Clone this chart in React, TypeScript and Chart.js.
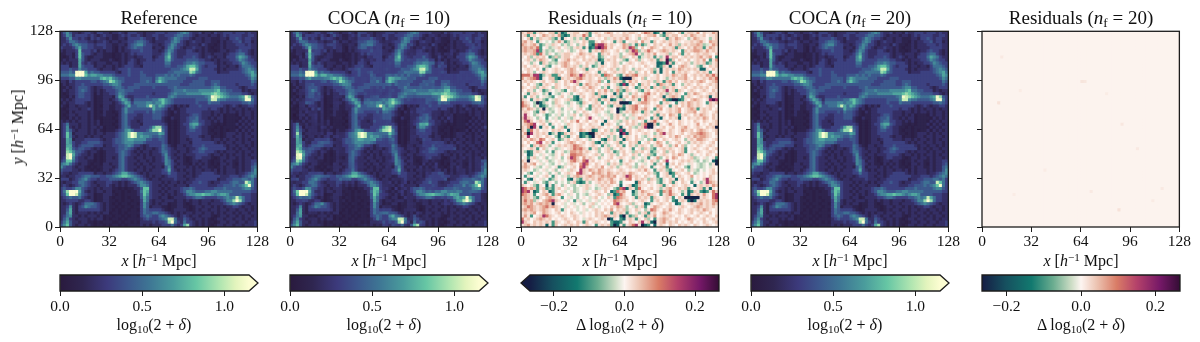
import React, { useEffect, useRef } from "react";
import { Chart, registerables } from "chart.js";

Chart.register(...registerables);

const FONT = '"Liberation Serif", serif';
const TICK_INK = "#1c1c1c";
const SOFTEN = "blur(0.4px)";

const positionTicks = [0, 32, 64, 96, 128];
const densityBarTicks = [0, 0.5, 1];
const residualBarTicks = [-0.2, 0, 0.2];

// log10(2+delta), one character per cell; top row first.
const densityLevels = [0.06, 0.12, 0.21, 0.32, 0.42, 0.52, 0.62, 0.72, 0.82, 0.92, 1.02, 1.12, 1.25];
const referenceRows = [
"24642212 33213322 12232133 32212223 33233345 65322312 21322333 23332322",
"23652333 32321232 21123232 23212233 22333455 44321222 12212323 33322332",
"22463323 21323221 21122133 33432213 22234654 33212212 21112213 34323322",
"22355433 32212232 12212233 45543212 22335653 21232212 21102122 33423312",
"23235654 43323332 21122134 56643322 12346533 21222132 11012122 23332322",
"32223574 43322232 21021234 54433312 21356432 12232212 10112122 22333322",
"21222383 33231212 21021223 33433322 12465322 23321212 11012212 23433212",
"11221384 33212211 10112123 23333322 23574322 23333212 21222123 34553212",
"10121384 21122211 10112122 12233312 33684322 33343212 32122133 35765322",
"12122274 21222111 21012123 21223323 33674333 34444332 21212223 34654332",
"21212273 23212221 12212133 21233333 33553333 45565443 33212122 33465433",
"33312274 33312212 21212333 22133333 33443344 57886432 33312212 21355543",
"33343364 43332122 21233343 33333333 33334445 67aa7433 33212122 22345654",
"44454bcc 74544333 33213343 33433333 33344555 55985433 33312223 33345675",
"55566ccc 86776655 54333343 33443334 44545454 44543333 33333333 33334576",
"33344665 55555787 86544333 33444435 76555544 43333444 33333333 33333465",
"22132333 33443456 98654333 33445436 86544444 33344443 34443333 33333354",
"12122334 33333344 56653333 44444444 44444443 33444443 34543333 32333343",
"11212344 43212233 34554344 44333343 33344544 44444444 45664433 33212333",
"12122345 43212123 33455444 33333333 33334555 65555666 66785544 33312122",
"10122344 33202122 33465433 33333323 33345655 56666677 78987654 44433212",
"11021344 33201122 21476322 33334333 33356544 44444445 6ba98765 5567b943",
"21212333 33201122 12357642 44444455 78654333 33334444 6aa65544 4456bb53",
"12122333 21201122 21235763 55556656 68654333 33334333 54443333 33344543",
"21022122 21201022 11223574 45557a75 76432021 21333433 33333212 32122332",
"10122212 23201122 11224644 44444475 54312012 23333333 23321212 12212122",
"11021222 21201021 10124644 33334354 43210212 23333322 21221212 21212212",
"10122122 21201121 11024533 32233344 43210112 22344322 21212011 10212212",
"11021212 21201011 10124533 22233344 42102112 23445322 12122011 11021212",
"21212122 21212011 11024532 21233333 32101012 23455332 21212011 10212122",
"23522212 21212011 10124532 22133333 33201012 33677432 21101011 12021212",
"23621212 21221201 11024542 22333479 94301012 23564322 11010111 10212122",
"23642122 21212101 11234675 33334699 b5301012 23443322 10110101 12021212",
"23851222 21212212 2234569c a6655555 76301012 23333322 11010122 21212122",
"23852122 12122122 2234569c a6766544 54301012 22333212 20110122 12212212",
"22761222 33333212 23445677 66664433 44301012 21233322 21221212 21212122",
"22763223 34444322 23445666 55543333 34301012 22133333 33212122 12212212",
"22773234 44433312 23344565 33212333 35421022 12233343 33333212 21221212",
"22874344 33212122 22344543 21212212 35432122 21223454 33333312 12122122",
"22986443 21221012 22345432 12122122 35532212 21233443 33212122 21212212",
"22ab7432 21201012 22245432 21212122 24632122 12223333 21221212 12212122",
"23ab6322 12201012 21245322 12212212 23642212 10123322 21012212 21212212",
"34885322 21101012 22245322 21221212 23653122 10122122 10112122 11212233",
"56753212 21011022 12245322 12122122 22653212 11021212 10102212 10212234",
"64332122 10101122 21245322 21212212 21463122 21212122 11012122 11212245",
"43332212 11010122 12345322 12212122 23473212 12212212 21202122 21212246",
"32212233 33312212 23457754 32121222 23353322 21212233 33212122 21223456",
"22122334 55444334 45678876 54321212 21233322 12212333 33332223 33234565",
"33312345 64332333 44443345 65432122 12222322 21223333 33312233 44455453",
"21223355 43212223 32212123 45654322 21212212 12233433 21223334 5544a853",
"23212345 43221223 21212122 24665322 12122122 21333333 22233444 54568b53",
"34334664 32212122 21101011 22488322 21212223 44543333 33444544 44456643",
"359ccc74 21212212 20110101 12587322 12122123 46654445 56655555 44444433",
"348cca64 32201122 21010111 12486322 21212122 35667787 76567764 44433322",
"23454453 21201122 10110101 11475322 12201222 23345543 33344565 6a753322",
"22333322 33201122 11010110 11375212 21222122 12122122 21223466 9c953322",
"21232123 55543212 10101101 10364212 12201122 10122122 12222345 65432122",
"22362134 65443212 11010110 11364122 21101122 11012212 21212122 33212212",
"22472133 33333212 10101101 10354333 32101222 21012122 12212212 21221212",
"22572122 21212122 01101011 11354455 44321212 12212212 21212122 12122122",
"23562212 12221201 10110101 10345433 56543212 32122122 21012212 21212212",
"24632122 21212201 01101011 11234333 456aa522 43212212 10122122 12212122",
"35742212 21101011 10010110 10222232 3349c532 53321212 11012212 21221223",
"46842122 12101101 01101011 11212122 23335323 79321212 10122122 12212223",
];

// Residuals (n_f = 10): A = most negative ... F = zero ... L = most positive
const residualLevels: Record<string, number> = {
  A: -0.26, B: -0.165, C: -0.1, D: -0.045, E: -0.02, F: 0,
  G: 0.018, H: 0.04, I: 0.07, J: 0.105, K: 0.165, L: 0.25,
};
const residual10Rows = [
"HGIHCGHG FHHCHBCG GHHFGHCG HGFHIHFG FHGHHGFH JIHBCGBH HGFHCGHH GIFHGGIH",
"GHCGHFGI HGHGICBC GHGGJHCF GHGGGHGG GHHGFGHF GHHIFDCH GHHFGHGI HGGHFGGH",
"GFHCGDHG GHDCGBGF GDGDHCGG FGFHEGHG HGIGFGDG HGFGGFGC HGIHGFDG IHGGFDGH",
"HIGHFCGF EFDGIGCD GEGFHGCC GFHGFGCG HCFGGHFI GGCHFGHG HGHGFGGH GHIGFIHH",
"IHGHIGCD GEHGFDGD GFDGHFCB JKKIGHGF GIHDGCHC DGFHGHFG IGHDGHGH HIHDEGIH",
"HIHIHJCF GDEGHFGE DGHGCGBC KLKJGHFG GIHKJDFH FGIHGFHG GHCHGFHG IHHCGIHG",
"HIHHIKCG DEDFGEFG DEFHGFCG HGIHGFGH FGDHKJDG HJHFGHIH GHGFCHGH IIHGIGHG",
"GHGHICJG DGFDEGHH GFGIHGHG FCHGHFGG DFGHIKGD GHGIFGGH DGFHCGHF GHGHHGFH",
"GFHDGHGH FCDHDGHH FGHGHFGH GCDGFGHG DHGFHGCE GHGCGDGK GHHFGHGH GHIGHIFC",
"FGHGDGIH GFDCFGHI GHGFHGHG HBCGHGHF GDCGFHDG FGHGCHGL CHFHGFHF GHGIFCGI",
"GFGDGFCH GDEDGHIH FGHGFHGG DGBGFGHG DFGHGFGH GFGGBBCL HCGFGHGD GHGHCDGH",
"GHFGHGFG DCFGFHIH GHGDGHFC DGHGFGHG FHGFGFGF HGFGBCHG BGFHIHGF GDCGFHGH",
"FGHGFHFC GFGHGFGH IHFGHCGG FHGFGHGD GHGFDGHG FGHDGBGH GHGIHGHG HGBBGFHG",
"GFHGDFGH GFGHGHFH IHGFGHGF GCGHFGHG GHFHGDGF HFHCGBGH FCGHGHGF GHGHGCFG",
"JJJHKKBD GHCCHFGH JIHKIGHG HGCJIHFD CGIHIJGG HGFGHFGH GIHGHIFG HGHGIHJH",
"IGHIJKBG FHHCBHGH GHIJHGHG FHGDHGIH BAAAHGFH DFGGHFGD GHGHHIGF HFGHGIHJ",
"GHGHGFGH FGHDGFHG IKHGFGHG GIDFCGHG HCGIGHFG GHGDHGCH IGHFGHGH GHIHFGHI",
"GFHFGDCG HGFHGFHG FGHCGIHG HGFGHFGD BKBGHFCH GHFGCIHG HCGFDGHG FHGFGHGH",
"HGFGHDGH GFDHGFGH GHFGHGIH GFDGCFGH DGHFGCDG HGCHGHDH GHGFGHFG HGHGHFGH",
"GFHGDFGC DGFEGDCF GHGFGHGH FHGIGDGI DCHGFGDC GHFGHGHK GHCHGFGH GFGHGFHG",
"FGCGHGFD GBFEDGFG DFGHGFGH CHGHFGBH CFGDGHFG IJGHFHGD HGHGFCHG IHGFGHGH",
"GCFHGDFG EDCFGHFE GCBGHFGH GHCBFHGD BGHFIHGH JHGFGHBG HIHGCGHG FGHGHBGH",
"HGFCGHGD CFEHGFGH DCBDGFHG HCGHGBCG HDFGHGCG JHGHGFIC BAABCGFH IHGFGKLK",
"JHGFDABD GFDHGFED GFDCHGFG HGCFHGHG AAABFGHI IHFGFCGH GFCGHGIH GHGFCHGH",
"JIHFDGBC DFEGHGFE GFGDGFCH GHFGDCGH HCGHIJGF HGFGIHGF CGHFHGIH GHGFGHGF",
"HGIHGDGA GDEFGDFG EFGHFDCG HGHFEGFA CBGHIJGH IGFCGIFG HGHIFGHI HCGHGHFG",
"GHGFDCGH FEDFGEFE FDGFHGFG HGFEDGFA DGHGIHGC HGDGHGFG HGHIFGHH IFGHGFGH",
"GKGFDGFE CDFEGDFE GHFDGHGF GEFGEDGH GDFEHGFG HGFHCGHF IHGCGHGF HGIHGFHG",
"HKHGFDGF CFEGDFGE DGFGFHKG FGEFGDGH FGDGEGIH GFCGHBGF HGHBGFHG GHGIHFHG",
"GJKHFGHG DGFGFEGF HGJFGHFG HFGBGFGE DGHFHGFG CGHJGFGH FGFHGFGF HGFHGFGH",
"GHIJKFGH FCGFGFEH GFGHGFHG GFBGHGFD GFHGHGDH JAAHCGFG IGFHGFGF GIFGFHGH",
"HGIAKGBG HFCFGHCG GFGHFGGH GHGFGFGH BGFHEDGH KAAGFGHF GHFGHIGF GHGFHGHA",
"HGCJGHFG GFHGHGFB GFGIHGHB CGFHGDGC KBGHFGHG FGFGIHGF HGFGIHGH FHIHGFGH",
"GIAKGHGH GBDGBCHG HGFBCBAA HGHGGHGF AKBHFGFG HGFDGIKG HGFGHFGH HIJIHGFH",
"HGKFGHGF HGFDBGDC GFHBCDBA GHFGDGDG BGHGFHFE DGFHGHGF HGIHFGHG IHIIHGFG",
"GHGIHGJI FGHFCDGH FGHGFGDG FGCBHGDG GBHGFHGE FDHCGFHG FGHGFDGH GIIHGFGH",
"GFHFGJKF HGCFGFGH IHFGHFGH CBGDGFGH CGFHGHCF GHFGIHFD GFGHFGDG HGHGFGHF",
"HGFCHGIH GDFGHGHG HJIHGFGH GFCGDGFH GCFHGDGH GFDGHIFG DGIFHDFG FHGFGHGF",
"GFGHGCFH EFGDEGFG HJIJHGCG HDFGHDGF HGFGCFGD HGDCFGHG HGFGHCFG HGFGHFGH",
"GDBCGHGF DFCGFGDE IIHIGHGF GDFGHGCD GHFGDHGH FGCDGFHD GHFGHCFG FHGFGHGF",
"GFBCGFEG FEDGFHFG JJIIHGFG HGDFGHGD FHGFHGDF GHDCFGHG FHGIHFGD GFGFHGFH",
"FGCGHEFG DFEGFDFH KJHFIGHG FDGFGHFG HGFGDGFE GCFGIDFH FIHFGFGH DEFGEFGC",
"HGAGFGEF GDEFGEFG IJHGJKGH FGFGHFGF CGFHGFED GFHGDFHK FGFGHGHG EDFDEFBA",
"GIGHIFGE FEDFGFEG HGFIKJGF HGFGDGHG DGHGFDFG EFGCGHFB GHFHGFEG FEDEFDGA",
"HIHFGEDF GEFGCDGF GHFJKHFG HGIFGHGD GFGHEDGH GFCGFGHC GFHGFDCG FEDEFEGF",
"GHGFDEFG EFGDFGFE HGFKHGIH GIHGHGFG HGFGFGHG IGFCGHGD CGFGHFDG EDFEFGHF",
"GFDCFGEF GDFGDFGH GFJKHGFI HIHGIHGH GHGIHGFG FHGDCFGH BCHGFGHF DEFGFGHG",
"FCGFGEFG HFCGFEGD GHIHGHIH GHIHIHIF GHKJGHGF HGFGCFGH GCFHGFGI FGFGFHGF",
"GFCBGFGE FCDGFGFC BGDCGHGH GIHGHIGF HGIJFHGH GDHGDCGF HGBGHFGD FGFHKHGF",
"FCGFEGFD CGFDFEFD GHCBCGDF GHGHGIHF CFFFFBIG FHGFDCGF HCGFHGFC GFDGKIHG",
"HGFGDCGF BGCGFDGF EDFEGHGF EGHGHGFG BFGHBCHG GFGFGHCG FHGFGHGF BGHGHGIH",
"KJHIHCGH CDCGHFGE FDEFGHEF DEGHGFDC JKBHGCJG FGHFGDGH IGFHGHCG FGHCGBGF",
"KJKGBCFH GBCGFGEF GDEFGEFG HGFHFBCJ HIFFBDGI HGFGHCIH JGFGDGBC HGCBCGJH",
"JIHGCFGH IGCHIGFE GFDFEDGF GHGFDHBC JHFFCDGH GIHGFCGH JHGFCGBH GHGIGFJK",
"HIHGDCGF HIHGFCFG EFDFGFEG HFEFHGCJ IHGFGCHG HGCHGFGH GCFHGAAA AAGHGFJK",
"HJHIDGFH IJKHGFGE FCGEFGEF GEFGFGJI HGHFGFGH GFCGHFGH FCBGHGBA BGHGHGIJ",
"HIHIGHIH IHAGFGEF GEFGDFGH EFGFGFJK GFGHDGFG BCGFGHGF HFBCGFGH GHIGHGIH",
"GHJIHGHI JHIHGFEG FGEFGFHE FEFGFHGI HGDFGDGH CFGIHGFG HGFGHGFG HIHGHGHG",
"HIHIHGHI HGFHGCGF GFEFGEFG HGFHGIFH GHDGFHGF DGJIGFHG IGFHGFGH GHGIHGFG",
"GHGHIFGI HGFGHFGF HGFEGFGF HGHFGCHG HGCGFGDG HCGHFGIH GFGHGFGH FGHGFHFG",
"GIGCFGHK JHGFGHGF GHGFGFGF HGHIHGHG BAGCDHFG CHGIFGHG HGFGFHGF GHFGHGFH",
"JGHFGHIH GHFGFGHG FHGFEGHG FGHGABGF CBGHGCGF HDFCGHIH GFHGFGIH GFGHFGHG",
"KHGFHGHG HGCHGFGH GFHGCHFG HGFGFCBB CGFHGFHK GHBAGHIG HGHFGFGH FGFHGFGH",
"GHIGHGHG BGCHFGHG HGHFGHGF CGHGHCAB GCGHJKGA BCFBGHGF HGFHGHGF HGFGHGFG",
];

// Residuals (n_f = 20): nearly uniform level plus the few visible faint cells [col, row, value]
const residual20Level = 0.002;
const residual20Spots = [
  [32, 16, 0.014], [33, 16, 0.012], [5, 23, 0.016], [44, 58, 0.016], [45, 30, 0.012],
  [50, 38, 0.01], [35, 52, 0.01], [58, 51, 0.01], [6, 8, 0.01], [12, 19, 0.008],
  [20, 45, 0.008], [55, 55, 0.009], [10, 53, 0.008], [40, 20, 0.008],
];

const densityStops: [number, string][] = [
  [0, "#2a1a3e"], [0.12, "#2f2650"], [0.25, "#3c3a7c"], [0.36, "#3c578c"], [0.47, "#3e7594"],
  [0.6, "#4a9c9c"], [0.72, "#66c6a4"], [0.85, "#b2e6b1"], [0.93, "#e3f4bd"], [1, "#fcfdd2"],
];
const residualStops: [number, string][] = [
  [0, "#151d44"], [0.12, "#16505f"], [0.25, "#12796f"], [0.36, "#6bad90"], [0.45, "#cbdcc4"],
  [0.5, "#fdf5f1"], [0.58, "#ecc3b1"], [0.68, "#d97c66"], [0.78, "#b5426a"], [0.9, "#751867"], [1, "#340d35"],
];

const hexRgb = (h: string) => [1, 3, 5].map((i) => parseInt(h.slice(i, i + 2), 16));
function colorAt(stops: [number, string][], t: number) {
  const f = Math.min(1, Math.max(0, t));
  for (let i = 1; i < stops.length; i++) {
    if (f <= stops[i][0]) {
      const [a, ca] = stops[i - 1];
      const [b, cb] = stops[i];
      const k = (f - a) / (b - a);
      const A = hexRgb(ca);
      const B = hexRgb(cb);
      return `rgb(${A.map((v, j) => Math.round(v + (B[j] - v) * k)).join(",")})`;
    }
  }
  return stops[stops.length - 1][1];
}

const clean = (rows: string[]) => rows.map((r) => r.replace(/ /g, ""));
const reference = clean(referenceRows).map((r) => Array.from(r).map((c) => densityLevels[parseInt(c, 16)]));
const residual10 = clean(residual10Rows).map((r) => Array.from(r).map((c) => residualLevels[c] ?? 0));
const residual20 = reference.map((r) => r.map(() => residual20Level));
residual20Spots.forEach(([c, r, v]) => { residual20[r][c] = v; });
const coca10 = reference.map((r, j) => r.map((v, i) => Math.max(0, v - 0.4 * (residual10[j][i] ?? 0))));
const coca20 = reference.map((r, j) => r.map((v, i) => Math.max(0, v - residual20[j][i])));

const DENSITY_MAX = 1.15;
const densityColor = (v: number) => colorAt(densityStops, v / DENSITY_MAX);
const residualColor = (v: number) => colorAt(residualStops, (v + 0.268) / 0.536);

const frame = {
  id: "frame",
  afterDraw(chart: any) {
    const { ctx, chartArea: a } = chart;
    ctx.save();
    ctx.strokeStyle = TICK_INK;
    ctx.lineWidth = 1.3;
    ctx.strokeRect(a.left, a.top, a.right - a.left, a.bottom - a.top);
    ctx.restore();
  },
};

function Heatmap({ left, grid, color, under, showY }: { left: number; grid: number[][]; color: (v: number) => string; under: string; showY: boolean }) {
  const ref = useRef<HTMLCanvasElement>(null);
  useEffect(() => {
    const points: { x: number; y: number }[] = [];
    const colors: string[] = [];
    grid.forEach((row, j) => row.forEach((v, i) => {
      points.push({ x: i * 2 + 1, y: 127 - j * 2 });
      colors.push(color(v));
    }));
    const backing = {
      id: "backing",
      beforeDatasetsDraw(chart: any) {
        const { ctx, chartArea: a } = chart;
        ctx.save();
        ctx.fillStyle = under;
        ctx.fillRect(a.left, a.top, a.right - a.left, a.bottom - a.top);
        ctx.restore();
      },
    };
    const chart = new Chart(ref.current!, {
      type: "scatter",
      data: { datasets: [{ data: points, pointStyle: "rect", pointRadius: 2.6, pointBorderWidth: 0, pointBackgroundColor: colors, showLine: false }] },
      options: {
        responsive: false, animation: false, events: [],
        layout: { padding: { top: 8, right: 12, left: 0, bottom: 0 } },
        plugins: { legend: { display: false }, tooltip: { enabled: false } },
        scales: {
          x: {
            type: "linear", min: 0, max: 128,
            afterBuildTicks: (s: any) => { s.ticks = positionTicks.map((value) => ({ value })); },
            afterFit: (s: any) => { s.height = 25; },
            grid: { drawOnChartArea: false, tickLength: 5, tickColor: TICK_INK },
            border: { display: false },
            ticks: { autoSkip: false, maxRotation: 0, padding: 1, color: "#111", font: { family: FONT, size: 15.5 } },
          },
          y: {
            type: "linear", min: 0, max: 128,
            afterBuildTicks: (s: any) => { s.ticks = positionTicks.map((value) => ({ value })); },
            afterFit: (s: any) => { s.width = 40; },
            grid: { drawOnChartArea: false, tickLength: 5, tickColor: TICK_INK },
            border: { display: false },
            ticks: { autoSkip: false, padding: 2, color: "#111", font: { family: FONT, size: 15.5 }, callback: (v: any) => (showY ? String(v) : "") },
          },
        },
      },
      plugins: [backing, frame],
    } as any);
    return () => chart.destroy();
  }, []);
  return <canvas ref={ref} width={250} height={232} style={{ position: "absolute", left: left - 40, top: 20, width: 250, height: 232, filter: SOFTEN }} />;
}

function Colorbar({ left, right, min, max, ticks, stops, arrow, tip, format }: {
  left: number; right: number; min: number; max: number; ticks: number[]; stops: [number, string][];
  arrow: "left" | "right" | null; tip: number; format: (v: number) => string;
}) {
  const ref = useRef<HTMLCanvasElement>(null);
  const PAD = 15;
  useEffect(() => {
    const outline = {
      id: "outline",
      afterDraw(chart: any) {
        const { ctx, chartArea: a } = chart;
        const tipX = tip - (left - PAD);
        const mid = (a.top + a.bottom) / 2;
        ctx.save();
        ctx.beginPath();
        ctx.moveTo(a.left, a.top);
        if (arrow === "right") {
          ctx.lineTo(a.right, a.top); ctx.lineTo(tipX, mid); ctx.lineTo(a.right, a.bottom); ctx.lineTo(a.left, a.bottom);
        } else if (arrow === "left") {
          ctx.lineTo(a.right, a.top); ctx.lineTo(a.right, a.bottom); ctx.lineTo(a.left, a.bottom); ctx.lineTo(tipX, mid);
        } else {
          ctx.lineTo(a.right, a.top); ctx.lineTo(a.right, a.bottom); ctx.lineTo(a.left, a.bottom);
        }
        ctx.closePath();
        if (arrow) {
          ctx.fillStyle = arrow === "right" ? stops[stops.length - 1][1] : stops[0][1];
          ctx.globalCompositeOperation = "destination-over";
          ctx.fill();
          ctx.globalCompositeOperation = "source-over";
        }
        ctx.strokeStyle = TICK_INK;
        ctx.lineWidth = 1.3;
        ctx.stroke();
        ctx.restore();
      },
    };
    const chart = new Chart(ref.current!, {
      type: "bar",
      data: {
        labels: ["range"],
        datasets: [{
          data: [[min, max]],
          barPercentage: 1, categoryPercentage: 1, borderWidth: 0, borderSkipped: false,
          backgroundColor: (c: any) => {
            const a = c.chart.chartArea;
            if (!a) return stops[0][1];
            const g = c.chart.ctx.createLinearGradient(a.left, 0, a.right, 0);
            stops.forEach(([p, col]) => g.addColorStop(p, col));
            return g;
          },
        }],
      },
      options: {
        indexAxis: "y", responsive: false, animation: false, events: [],
        layout: { padding: { top: 5, left: PAD, right: PAD, bottom: 0 } },
        plugins: { legend: { display: false }, tooltip: { enabled: false } },
        scales: {
          y: { type: "category", display: false },
          x: {
            type: "linear", min, max,
            afterBuildTicks: (s: any) => { s.ticks = ticks.map((value) => ({ value })); },
            afterFit: (s: any) => { s.height = 28; },
            grid: { drawOnChartArea: false, tickLength: 5, tickColor: TICK_INK },
            border: { display: false },
            ticks: { autoSkip: false, maxRotation: 0, padding: 2, color: "#111", font: { family: FONT, size: 15.5 }, callback: (v: any) => format(Number(v)) },
          },
        },
      },
      plugins: [outline],
    } as any);
    return () => chart.destroy();
  }, []);
  const w = right - left + PAD * 2;
  return <canvas ref={ref} width={w} height={49} style={{ position: "absolute", left: left - PAD, top: 270, width: w, height: 49, filter: SOFTEN }} />;
}

const Sub = ({ children }: { children: React.ReactNode }) => (
  <span style={{ fontSize: "0.7em", verticalAlign: "-0.25em", lineHeight: 0 }}>{children}</span>
);
const Sup = ({ children }: { children: React.ReactNode }) => (
  <span style={{ fontSize: "0.7em", verticalAlign: "0.45em", lineHeight: 0 }}>{children}</span>
);

const Centered = ({ cx, cy, size, rotate, children }: { cx: number; cy: number; size: number; rotate?: boolean; children: React.ReactNode }) => (
  <div style={{
    position: "absolute", left: cx, top: cy, whiteSpace: "nowrap", fontFamily: FONT, fontSize: size, lineHeight: 1, color: "#111",
    transform: `translate(-50%,-50%)${rotate ? " rotate(-90deg)" : ""}`, filter: SOFTEN,
  }}>{children}</div>
);

const XLabel = () => <><i>x</i> [<i>h</i><Sup>−1</Sup> Mpc]</>;
const DensityLabel = () => <>log<Sub>10</Sub>(2 + <i>δ</i>)</>;
const ResidualLabel = () => <>Δ log<Sub>10</Sub>(2 + <i>δ</i>)</>;
const Nf = ({ n }: { n: number }) => <>(<i>n</i><Sub>f</Sub> = {n})</>;

const fmtDensity = (v: number) => v.toFixed(1);
const fmtResidual = (v: number) => (v < 0 ? "−" : "") + Math.abs(v).toFixed(1);

const panels = [
  { left: 60, grid: reference, color: densityColor, under: "#322a5c", title: <>Reference</> },
  { left: 290, grid: coca10, color: densityColor, under: "#322a5c", title: <>COCA <Nf n={10} /></> },
  { left: 521, grid: residual10, color: residualColor, under: "#f8e6de", title: <>Residuals <Nf n={10} /></> },
  { left: 751, grid: coca20, color: densityColor, under: "#322a5c", title: <>COCA <Nf n={20} /></> },
  { left: 982, grid: residual20, color: residualColor, under: "#fcf3ef", title: <>Residuals <Nf n={20} /></> },
];

export default function App() {
  return (
    <div style={{ position: "absolute", left: 0, top: 0, width: 1200, height: 342, overflow: "hidden", background: "#fff" }}>
      {panels.map((p, i) => (
        <React.Fragment key={i}>
          <Heatmap left={p.left} grid={p.grid} color={p.color} under={p.under} showY={i === 0} />
          <Centered cx={p.left + 99} cy={16.5} size={19}>{p.title}</Centered>
          <Centered cx={p.left + 99} cy={261} size={16}><XLabel /></Centered>
        </React.Fragment>
      ))}
      <Centered cx={18} cy={127} size={16} rotate><i>y</i> [<i>h</i><Sup>−1</Sup> Mpc]</Centered>

      <Colorbar left={60} right={249} min={0} max={DENSITY_MAX} ticks={densityBarTicks} stops={densityStops} arrow="right" tip={258} format={fmtDensity} />
      <Colorbar left={290} right={479} min={0} max={DENSITY_MAX} ticks={densityBarTicks} stops={densityStops} arrow="right" tip={488} format={fmtDensity} />
      <Colorbar left={530} right={719} min={-0.268} max={0.268} ticks={residualBarTicks} stops={residualStops} arrow="left" tip={521} format={fmtResidual} />
      <Colorbar left={751} right={940} min={0} max={DENSITY_MAX} ticks={densityBarTicks} stops={densityStops} arrow="right" tip={949} format={fmtDensity} />
      <Colorbar left={982} right={1180} min={-0.266} max={0.266} ticks={residualBarTicks} stops={residualStops} arrow={null} tip={982} format={fmtResidual} />

      <Centered cx={154} cy={325} size={16}><DensityLabel /></Centered>
      <Centered cx={384} cy={325} size={16}><DensityLabel /></Centered>
      <Centered cx={620} cy={325} size={16}><ResidualLabel /></Centered>
      <Centered cx={845} cy={325} size={16}><DensityLabel /></Centered>
      <Centered cx={1081} cy={325} size={16}><ResidualLabel /></Centered>
    </div>
  );
}
